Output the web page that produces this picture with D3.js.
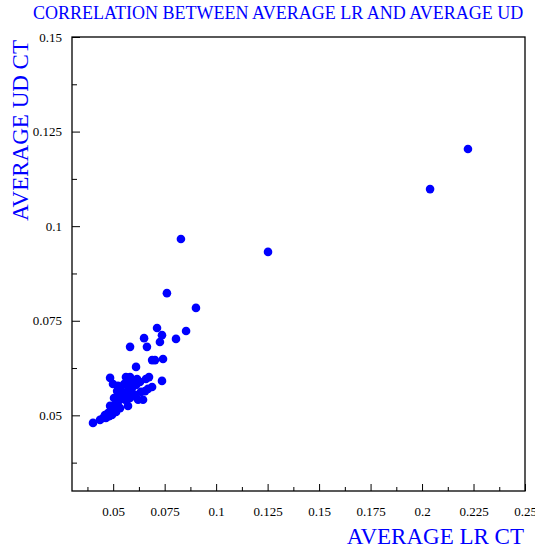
<!DOCTYPE html>
<html>
<head>
<meta charset="utf-8">
<script src="https://cdn.jsdelivr.net/npm/d3@7"></script>
<style>
  html, body { margin: 0; padding: 0; background: #fff; }
  svg { display: block; }
</style>
</head>
<body>
<svg id="chart" width="535" height="550"></svg>
<script>
// ---- data ----
const titleText = "CORRELATION BETWEEN AVERAGE LR AND AVERAGE UD";
const xLabel = "AVERAGE LR CT";
const yLabel = "AVERAGE UD CT";

const xDomain = [0.03, 0.25];
const yDomain = [0.03, 0.15];
const xTicks = [0.05, 0.075, 0.1, 0.125, 0.15, 0.175, 0.2, 0.225, 0.25];
const yTicks = [0.05, 0.075, 0.1, 0.125, 0.15];
const xMinorTicks = [0.0375, 0.0625, 0.0875, 0.1125, 0.1375, 0.1625, 0.1875, 0.2125, 0.2375];
const yMinorTicks = [0.0375, 0.0625, 0.0875, 0.1125, 0.1375];

// average LR CT (x) and average UD CT (y) per point
const lrValues = [
  0.2223, 0.2039, 0.1252, 0.0829, 0.0761, 0.0902,
  0.0713, 0.0854, 0.0737, 0.0650, 0.0805, 0.0727, 0.0582, 0.0664,
  0.0689, 0.0703, 0.0742, 0.0611, 0.0485, 0.0562, 0.0582, 0.0587,
  0.0659, 0.0674, 0.0737,
  0.0402, 0.0436, 0.0451, 0.0465, 0.0480, 0.0494, 0.0475, 0.0494,
  0.0485, 0.0509, 0.0523, 0.0504, 0.0533, 0.0553, 0.0572, 0.0538,
  0.0523, 0.0499, 0.0553, 0.0572, 0.0591, 0.0611, 0.0630, 0.0596,
  0.0572, 0.0621, 0.0645, 0.0635, 0.0655, 0.0669, 0.0689, 0.0606,
  0.0582, 0.0557, 0.0533, 0.0514, 0.0460, 0.0519, 0.0567, 0.0616
];
const udValues = [
  0.1204, 0.1098, 0.0932, 0.0966, 0.0823, 0.0784,
  0.0731, 0.0723, 0.0712, 0.0704, 0.0702, 0.0694, 0.0681, 0.0681,
  0.0646, 0.0646, 0.0649, 0.0628, 0.0599, 0.0601, 0.0601, 0.0591,
  0.0596, 0.0601, 0.0591,
  0.0480, 0.0488, 0.0493, 0.0493, 0.0498, 0.0501, 0.0506, 0.0514,
  0.0525, 0.0527, 0.0535, 0.0546, 0.0551, 0.0554, 0.0562, 0.0567,
  0.0578, 0.0583, 0.0583, 0.0578, 0.0572, 0.0580, 0.0588, 0.0593,
  0.0525, 0.0541, 0.0541, 0.0562, 0.0564, 0.0570, 0.0575, 0.0554,
  0.0546, 0.0541, 0.0519, 0.0509, 0.0501, 0.0564, 0.0588, 0.0596
];

// ---- layout ----
const W = 535, H = 550;
const margin = { left: 72, right: 10, top: 37, bottom: 59 };
const innerW = W - margin.left - margin.right;
const innerH = H - margin.top - margin.bottom;
const blue = "#0000ff";
const serif = "'Liberation Serif', 'Times New Roman', serif";

const svg = d3.select("#chart");
const g = svg.append("g").attr("transform", `translate(${margin.left},${margin.top})`);

const x = d3.scaleLinear().domain(xDomain).range([0, innerW]);
const y = d3.scaleLinear().domain(yDomain).range([innerH, 0]);
const fmt = d => String(+d.toFixed(4));

// minor ticks
g.append("g").attr("transform", `translate(0,${innerH})`)
  .call(d3.axisBottom(x).tickValues(xMinorTicks).tickSizeInner(-4).tickSizeOuter(0).tickFormat(""))
  .call(a => a.select(".domain").remove());
g.append("g")
  .call(d3.axisLeft(y).tickValues(yMinorTicks).tickSizeInner(-5).tickSizeOuter(0).tickFormat(""))
  .call(a => a.select(".domain").remove());

// major ticks
const xAxisG = g.append("g").attr("transform", `translate(0,${innerH})`)
  .call(d3.axisBottom(x).tickValues(xTicks).tickSizeInner(-7).tickSizeOuter(0).tickPadding(16).tickFormat(fmt));
xAxisG.select(".domain").remove();
const yAxisG = g.append("g")
  .call(d3.axisLeft(y).tickValues(yTicks).tickSizeInner(-8).tickSizeOuter(0).tickPadding(10).tickFormat(fmt));
yAxisG.select(".domain").remove();

g.selectAll(".tick line").attr("stroke", "#000").attr("stroke-width", 1);
g.selectAll(".tick text").attr("font-family", serif).attr("font-size", 13).attr("fill", "#000");

// frame
g.append("rect")
  .attr("x", 0).attr("y", 0).attr("width", innerW).attr("height", innerH)
  .attr("fill", "none").attr("stroke", "#000").attr("stroke-width", 1.3);

// points
const pts = lrValues.map((v, i) => ({ lr: v, ud: udValues[i] }));
g.append("g").selectAll("circle").data(pts).join("circle")
  .attr("cx", d => x(d.lr))
  .attr("cy", d => y(d.ud))
  .attr("r", 4.3)
  .attr("fill", blue);

// title
svg.append("text")
  .attr("x", 33).attr("y", 19)
  .attr("font-family", serif).attr("font-size", 18).attr("fill", blue)
  .text(titleText);

// axis titles
svg.append("text")
  .attr("x", 524).attr("y", 544)
  .attr("text-anchor", "end")
  .attr("font-family", serif).attr("font-size", 23).attr("fill", blue)
  .text(xLabel);

svg.append("text")
  .attr("transform", "translate(28,40) rotate(-90)")
  .attr("text-anchor", "end")
  .attr("font-family", serif).attr("font-size", 23).attr("fill", blue)
  .text(yLabel);
</script>
</body>
</html>
